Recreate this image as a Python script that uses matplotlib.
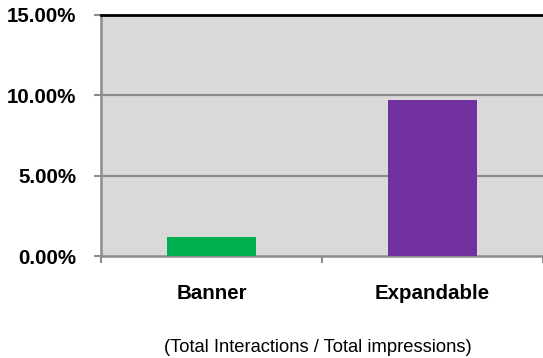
import matplotlib
matplotlib.use("Agg")
import matplotlib.pyplot as plt
from matplotlib.ticker import FuncFormatter

categories = ["Banner", "Expandable"]
rates = [1.2, 9.7]  # interaction rate, percent
bar_colors = ["#00B050", "#7030A0"]
y_ticks = [0, 5, 10, 15]
subtitle = "(Total Interactions / Total impressions)"

plt.rcParams["font.family"] = ["Liberation Sans", "DejaVu Sans"]

fig = plt.figure(figsize=(5.43, 3.58), dpi=100)
ax = fig.add_axes([101 / 543, 102 / 358, 442 / 543, 241 / 358])
ax.set_facecolor("#D9D9D9")

x = list(range(len(categories)))
ax.bar(x, rates, width=0.4, color=bar_colors, zorder=3)

ax.set_xlim(-0.5, len(categories) - 0.5)
ax.set_ylim(0, 15)

# gridlines
for v in y_ticks[1:-1]:
    ax.axhline(v, color="#8C8C8C", lw=1.6, zorder=1)

ax.set_yticks(y_ticks)
ax.yaxis.set_major_formatter(FuncFormatter(lambda v, p: f"{v:.2f}%"))
ax.tick_params(axis="y", length=5, width=1.5, color="#8C8C8C", pad=13,
               labelsize=14.8)
for lbl in ax.get_yticklabels():
    lbl.set_fontweight("bold")

# category boundaries as major ticks, names on minor ticks
ax.set_xticks([i - 0.5 for i in range(len(categories) + 1)])
ax.set_xticklabels([])
ax.tick_params(axis="x", which="major", length=5, width=1.5, color="#8C8C8C")
ax.set_xticks(x, minor=True)
ax.set_xticklabels(categories, minor=True, fontsize=14.8, fontweight="bold")
ax.tick_params(axis="x", which="minor", length=0, pad=20)

for side in ("left", "bottom"):
    ax.spines[side].set_color("#8C8C8C")
    ax.spines[side].set_linewidth(1.8)
ax.spines["top"].set_color("black")
ax.spines["top"].set_linewidth(2)
ax.spines["right"].set_visible(False)

fig.text(318 / 543, 1 - 352 / 358, subtitle, ha="center", va="baseline",
         fontsize=13.2)

fig.savefig("out.png", dpi=100)
